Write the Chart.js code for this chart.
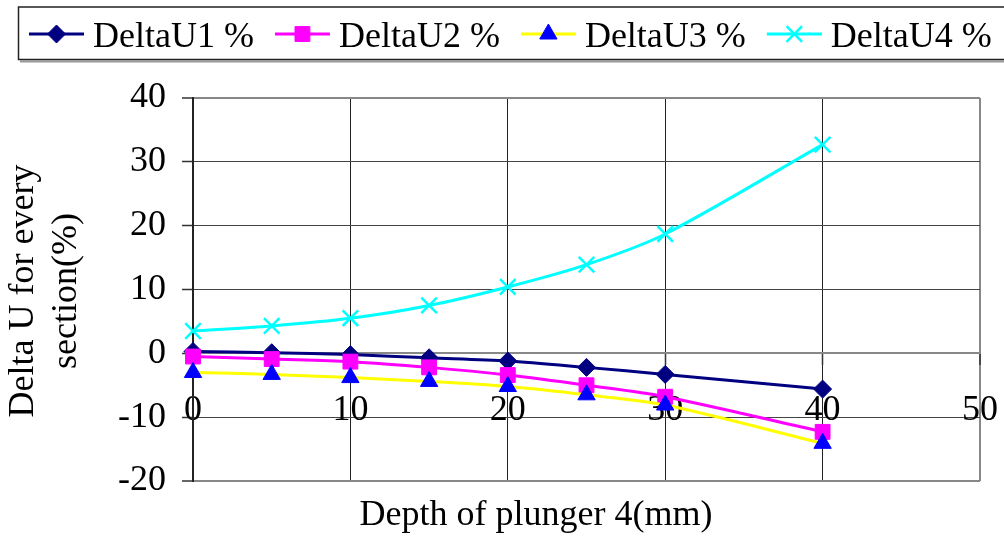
<!DOCTYPE html>
<html>
<head>
<meta charset="utf-8">
<script src="https://cdn.jsdelivr.net/npm/chart.js@4.4.1/dist/chart.umd.min.js"></script>
<style>
  html, body { margin: 0; padding: 0; background: #ffffff; }
  #wrap { width: 1004px; height: 536px; }
</style>
</head>
<body>
<div id="wrap"><canvas id="c" width="1004" height="536"></canvas></div>
<script>
// Plunger depth (mm) and the relative voltage change of each section (%)
const depth   = [0, 5, 10, 15, 20, 25, 30, 40];
const deltaU1 = [0.3, 0.1, -0.2, -0.7, -1.2, -2.2, -3.3, -5.6];
const deltaU2 = [-0.5, -0.9, -1.3, -2.2, -3.4, -5.0, -6.8, -12.3];
const deltaU3 = [-3.0, -3.3, -3.8, -4.4, -5.2, -6.5, -8.1, -14.1];
const deltaU4 = [3.5, 4.3, 5.5, 7.5, 10.4, 13.9, 18.7, 32.7];
const seriesNames = ['DeltaU1 %', 'DeltaU2 %', 'DeltaU3 %', 'DeltaU4 %'];
const xTicks = [0, 10, 20, 30, 40, 50];
const yTicks = [-20, -10, 0, 10, 20, 30, 40];
const xTitle = 'Depth of plunger 4(mm)';
const yTitle = ['Delta U for every', 'section(%)'];

const FONT = '"Liberation Serif", "Times New Roman", serif';
const toPoints = vals => depth.map((x, i) => ({ x: x, y: vals[i] }));

function series(i, vals, line, marker, style, radius, order) {
  return {
    label: seriesNames[i],
    data: toPoints(vals),
    borderColor: line,
    backgroundColor: line,
    borderWidth: 3,
    tension: 0.3,
    pointStyle: style,
    pointRadius: radius,
    pointHoverRadius: radius,
    pointBackgroundColor: marker,
    pointBorderColor: marker,
    pointBorderWidth: style === 'crossRot' ? 2.5 : 1,
    order: order,
    clip: false
  };
}

// Legend box and axis titles drawn on the canvas
const decorations = {
  id: 'decorations',
  afterDraw(chart) {
    const ctx = chart.ctx;
    ctx.save();
    // legend frame with a light shadow along the bottom
    ctx.strokeStyle = '#999999';
    ctx.lineWidth = 2;
    ctx.beginPath(); ctx.moveTo(20, 61.5); ctx.lineTo(1004, 61.5); ctx.stroke();
    ctx.strokeStyle = '#222222';
    ctx.lineWidth = 1.5;
    ctx.strokeRect(18.5, 7, 1000, 52.5);

    ctx.font = '36px ' + FONT;
    ctx.textAlign = 'left';
    ctx.textBaseline = 'alphabetic';
    let x = 29;
    const y = 34;
    chart.data.datasets.forEach(ds => {
      ctx.strokeStyle = ds.borderColor;
      ctx.lineWidth = ds.borderWidth;
      ctx.beginPath(); ctx.moveTo(x, y); ctx.lineTo(x + 55, y); ctx.stroke();
      ctx.fillStyle = ds.pointBackgroundColor;
      ctx.strokeStyle = ds.pointBorderColor;
      ctx.lineWidth = ds.pointBorderWidth;
      Chart.helpers.drawPoint(ctx, {
        pointStyle: ds.pointStyle, radius: ds.pointRadius,
        borderWidth: ds.pointBorderWidth, rotation: 0
      }, x + 27.5, y);
      ctx.fillStyle = '#000000';
      ctx.fillText(ds.label, x + 64, 47);
      x += 64 + ctx.measureText(ds.label).width + 21;
    });

    // x-axis title
    ctx.textAlign = 'center';
    ctx.fillText(xTitle, 536, 525);

    // y-axis title, two rotated lines
    [33, 76].forEach((bx, i) => {
      ctx.save();
      ctx.translate(bx, 291);
      ctx.rotate(-Math.PI / 2);
      ctx.fillText(yTitle[i], 0, 0);
      ctx.restore();
    });
    ctx.restore();
  }
};

new Chart(document.getElementById('c'), {
  type: 'line',
  data: {
    datasets: [
      series(0, deltaU1, '#000080', '#000080', 'rectRot', 9, 4),
      series(1, deltaU2, '#ff00ff', '#ff00ff', 'rect', 10.5, 3),
      series(2, deltaU3, '#ffff00', '#0000ff', 'triangle', 10, 2),
      series(3, deltaU4, '#00ffff', '#00ffff', 'crossRot', 11, 1)
    ]
  },
  options: {
    responsive: false,
    animation: false,
    events: [],
    layout: { padding: { left: 0, top: 98, right: 24, bottom: 55 } },
    plugins: {
      legend: { display: false },
      tooltip: { enabled: false },
      title: { display: false }
    },
    scales: {
      x: {
        type: 'linear',
        min: 0, max: 50,
        position: { y: 0 },
        afterBuildTicks: s => { s.ticks = xTicks.map(v => ({ value: v })); },
        afterFit: s => { s.paddingLeft = 0; s.paddingRight = 0; },
        ticks: {
          font: { family: FONT, size: 36 },
          color: '#000000',
          padding: 25,
          maxRotation: 0,
          autoSkip: false,
          callback: v => String(v)
        },
        grid: {
          color: c => (c.tick && c.tick.value === 50) ? '#888888'
                    : (c.tick && c.tick.value === 0) ? 'rgba(0,0,0,0)' : '#222222',
          lineWidth: c => (c.tick && c.tick.value === 50) ? 2 : 1,
          tickLength: 11,
          tickColor: '#333333',
          tickWidth: 1.5
        },
        border: { color: '#888888', width: 2 }
      },
      y: {
        type: 'linear',
        min: -20, max: 40,
        afterBuildTicks: s => { s.ticks = yTicks.map(v => ({ value: v })); },
        afterFit: s => { s.width = 193; s.paddingTop = 0; s.paddingBottom = 0; },
        ticks: {
          font: { family: FONT, size: 36 },
          color: '#000000',
          padding: 16,
          autoSkip: false,
          callback: v => String(v)
        },
        grid: {
          color: c => {
            const v = c.tick ? c.tick.value : null;
            if (v === 40 || v === -20) return '#888888';
            if (v === 0) return 'rgba(0,0,0,0)';
            return '#444444';
          },
          lineWidth: c => (c.tick && (c.tick.value === 40 || c.tick.value === -20)) ? 2 : 1,
          tickLength: 11,
          tickColor: '#333333',
          tickWidth: 1.5
        },
        border: { color: '#222222', width: 2 }
      }
    }
  },
  plugins: [decorations]
});
</script>
</body>
</html>
